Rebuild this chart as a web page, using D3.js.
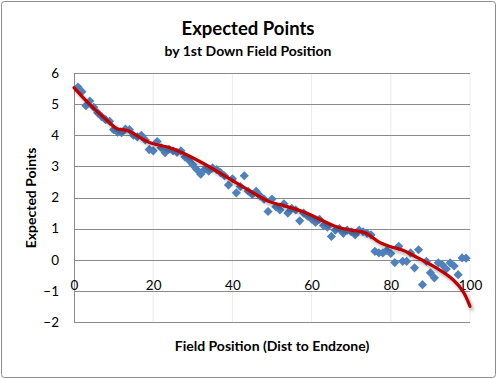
<!DOCTYPE html>
<html><head><meta charset="utf-8">
<script src="https://cdn.jsdelivr.net/npm/d3@7"></script>
<style>body{margin:0;background:#fff}text{font-family:Lato,"Liberation Sans",sans-serif}</style>
</head><body>
<svg id="c" width="497" height="379"></svg>
<script>
const fieldPos = d3.range(1, 100);
const expPts = [5.55,5.4,4.95,5.1,4.9,4.72,4.6,4.5,4.45,4.18,4.1,4.08,4.2,4.18,4.0,3.95,4.0,3.85,3.54,3.5,3.8,3.6,3.44,3.55,3.5,3.45,3.5,3.3,3.2,3.05,2.9,2.75,2.9,2.85,2.95,2.9,2.8,2.7,2.4,2.6,2.15,2.35,2.7,2.2,2.1,2.2,2.05,1.95,1.55,1.95,1.7,1.6,1.8,1.5,1.65,1.6,1.25,1.5,1.4,1.3,1.2,1.3,1.1,1.05,0.75,0.95,1.0,0.85,0.95,0.9,0.8,0.95,0.9,0.85,0.8,0.27,0.22,0.22,0.3,0.2,-0.09,0.43,-0.05,-0.05,0.22,-0.26,0.32,-0.8,-0.05,-0.42,-0.58,-0.1,-0.16,-0.3,-0.1,-0.2,-0.48,0.06,0.05];
const trendX = [0,3.5,7.3,10.9,12.4,14.1,17,19.2,24.2,26.8,32.6,41,49.5,52,57.9,66.3,70,73.5,77.3,80,83.2,87,91.6,95.8,98.3,100];
const trendY = [5.53,5.05,4.6,4.21,4.18,4.12,3.9,3.76,3.6,3.47,3.1,2.47,1.86,1.77,1.54,1.06,0.95,0.87,0.55,0.42,0.3,0.05,-0.27,-0.65,-1.03,-1.5];
const xTicks = [0,20,40,60,80,100];
const yTicks = [-2,-1,0,1,2,3,4,5,6];
const title = "Expected Points", subtitle = "by 1st Down Field Position";
const xTitle = "Field Position (Dist to Endzone)", yTitle = "Expected Points";

const svg = d3.select("#c");
const L = 74, R = 470, T = 73, B = 322;
const x = d3.scaleLinear().domain([0,100]).range([L,R]);
const y = d3.scaleLinear().domain([-2,6]).range([B,T]);

svg.append("rect").attr("x",1.5).attr("y",1.5).attr("width",494).attr("height",376)
  .attr("rx",3).attr("fill","#fff").attr("stroke","#8c8c8c");

const defs = svg.append("defs");
const f = defs.append("filter").attr("id","sh").attr("x","-10%").attr("y","-10%").attr("width","130%").attr("height","130%");
f.append("feDropShadow").attr("dx",2).attr("dy",3).attr("stdDeviation",1.6).attr("flood-color","#000").attr("flood-opacity",0.28);

// vertical gridlines
svg.append("g").selectAll("line").data(xTicks.slice(1)).join("line")
  .attr("x1",d=>x(d)).attr("x2",d=>x(d)).attr("y1",T).attr("y2",B)
  .attr("stroke","#ececec").attr("stroke-width",1);
// horizontal gridlines
svg.append("g").selectAll("line").data(yTicks).join("line")
  .attr("x1",L).attr("x2",R).attr("y1",d=>Math.round(y(d))+0.5).attr("y2",d=>Math.round(y(d))+0.5)
  .attr("stroke","#8a8a8a").attr("stroke-width",1);
svg.append("line").attr("x1",L+0.5).attr("x2",L+0.5).attr("y1",T).attr("y2",B+0.5).attr("stroke","#8a8a8a");

// y axis labels
const yAxis = d3.axisLeft(y).tickValues(yTicks).tickSize(0).tickPadding(0);
const gy = svg.append("g").attr("transform",`translate(${L-15},0)`).call(yAxis);
gy.select(".domain").remove();
gy.selectAll("text").attr("font-size",13.5).attr("font-family","Lato, sans-serif").attr("fill","#000");

// x axis labels (axis crossing at 0)
const xAxis = d3.axisBottom(x).tickValues(xTicks).tickSize(0).tickPadding(0);
const gx = svg.append("g").attr("transform",`translate(0,${y(0)+30})`).call(xAxis);
gx.select(".domain").remove();
gx.selectAll("text").attr("font-size",13.5).attr("font-family","Lato, sans-serif").attr("fill","#000").attr("dy","0");

// points
const pts = fieldPos.map((d,i)=>[d,expPts[i]]);
const sym = d3.symbol().type(d3.symbolSquare).size(42);
svg.append("g").selectAll("path").data(pts).join("path")
  .attr("d",sym).attr("transform",d=>`translate(${x(d[0])},${y(d[1])}) rotate(45)`)
  .attr("fill","#4f81bd");

// trend line
const tr = trendX.map((d,i)=>[d,trendY[i]]);
svg.append("path").datum(tr)
  .attr("d",d3.line().x(d=>x(d[0])).y(d=>y(d[1])).curve(d3.curveCatmullRom.alpha(0.5)))
  .attr("fill","none").attr("stroke","#c00000").attr("stroke-width",3.2)
  .attr("stroke-linecap","round").attr("filter","url(#sh)");

// titles
svg.append("text").attr("x",248).attr("y",35).attr("text-anchor","middle")
  .attr("font-size",18.5).attr("font-weight","bold").text(title);
svg.append("text").attr("x",248).attr("y",56).attr("text-anchor","middle")
  .attr("font-size",14).attr("font-weight","bold").text(subtitle);
svg.append("text").attr("x",272).attr("y",351).attr("text-anchor","middle")
  .attr("font-size",14).attr("font-weight","bold").text(xTitle);
svg.append("text").attr("transform","translate(36,198) rotate(-90)").attr("text-anchor","middle")
  .attr("font-size",14).attr("font-weight","bold").text(yTitle);
</script>
</body></html>
